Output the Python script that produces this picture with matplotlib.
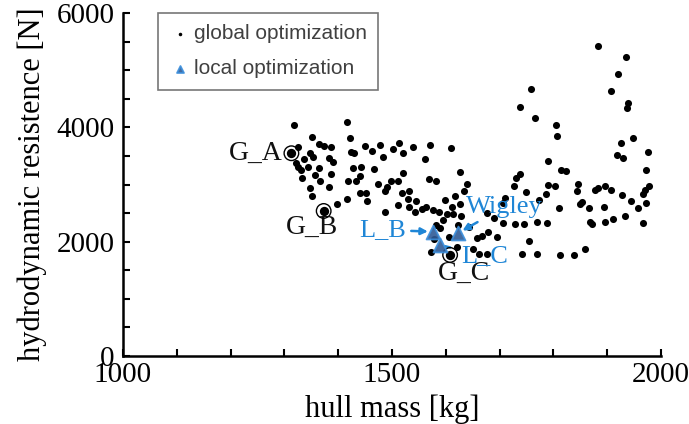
import matplotlib
matplotlib.use("Agg")
import matplotlib.pyplot as plt
from matplotlib.ticker import MultipleLocator, FixedLocator

# ---------------- data ----------------
global_mass = [
    1317, 1417, 1351, 1421, 1364, 1373, 1386, 1326, 1313, 1347,
    1354, 1336, 1382, 1391, 1321, 1325, 1344, 1364, 1330, 1357,
    1386, 1333, 1367, 1383, 1347, 1352, 1397, 1417, 1373, 1423,
    1430, 1450, 1462, 1477, 1483, 1501, 1513, 1521, 1539, 1428,
    1443, 1467, 1441, 1434, 1418, 1474, 1490, 1487, 1499, 1511,
    1521, 1440, 1451, 1454, 1518, 1531, 1529, 1512, 1531, 1545,
    1487,
    1766, 1570, 1609, 1562, 1790, 1626, 1568, 1582, 1639, 1738,
    1730, 1633, 1618, 1599, 1727, 1749, 1789, 1710, 1707, 1774,
    1556, 1563, 1576, 1587, 1542, 1612, 1627, 1602, 1613, 1628,
    1594, 1582, 1590, 1622, 1644, 1677, 1690, 1707, 1729, 1746,
    1770, 1788, 1679, 1667, 1658, 1696, 1755, 1605, 1573, 1620,
    1650, 1661, 1676, 1741, 1770, 1608, 1737, 1759, 1578,
    1882, 1934, 1920, 1907, 1938, 1936, 1805, 1807, 1948, 1925,
    1918, 1929, 1976, 1815, 1824, 1972, 1803, 1846, 1843, 1877,
    1883, 1895, 1907, 1978, 1970, 1967, 1786, 1927, 1854, 1850,
    1945, 1972, 1866, 1894, 1957, 1810, 1933, 1911, 1895, 1868,
    1872, 1967, 1859, 1838, 1812,
]
global_resistance = [
    4040, 4090, 3827, 3820, 3710, 3675, 3663, 3652, 3547, 3547,
    3477, 3448, 3470, 3400, 3372, 3313, 3302, 3295, 3255, 3168,
    3180, 3110, 3062, 2963, 2945, 2800, 2660, 2742, 2537, 3575,
    3547, 3680, 3593, 3687, 3488, 3622, 3733, 3547, 3652, 3285,
    3302, 3267, 3155, 3062, 3062, 3010, 2963, 2888, 3062, 3062,
    3208, 2847, 2847, 2718, 2858, 2893, 2742, 2642, 2613, 2718,
    2520,
    4160, 3698, 3645, 3448, 3407, 3215, 3092, 3062, 3010, 3185,
    3120, 2888, 2800, 2730, 2975, 2865, 2993, 2760, 2672, 2730,
    2567, 2602, 2555, 2520, 2520, 2602, 2660, 2485, 2485, 2450,
    2380, 2292, 2234, 2292, 2263, 2497, 2410, 2322, 2310, 2305,
    2340, 2322, 2175, 2100, 2060, 2077, 2012, 2088, 1825, 1913,
    1867, 1780, 1785, 1780, 1785, 1768, 4352, 4678, 2048,
    5430, 5238, 4940, 4643, 4433, 4345, 4048, 3855, 3820, 3733,
    3518, 3470, 3565, 3255, 3243, 3255, 2980, 3015, 2893, 2905,
    2945, 2975, 2905, 2980, 2905, 2835, 2830, 2818, 2690, 2655,
    2707, 2672, 2585, 2608, 2595, 2585, 2455, 2398, 2340, 2350,
    2310, 2333, 1878, 1768, 1768,
]

local_mass = [1577, 1589, 1622]
local_resistance = [2175, 1943, 2147]

marked_names = ["G_A", "G_B", "G_C"]
marked_mass = [1313, 1373, 1608]
marked_resistance = [3547, 2537, 1768]

local_names = ["L_B", "L_C", "Wigley"]

x_ticks = [1000, 1500, 2000]
y_ticks = [0, 2000, 4000, 6000]

# ---------------- figure ----------------
fig = plt.figure(figsize=(6.89, 4.24), dpi=100)
ax = fig.add_axes([0.1785, 0.1604, 0.7809, 0.8089])

serif = ["Liberation Serif", "DejaVu Serif"]
sans = ["Liberation Sans", "DejaVu Sans"]
blue = "#1f86d6"

ax.scatter(global_mass, global_resistance, s=26, color="black",
           linewidths=0, zorder=3, label="global optimization")
# highlighted global points
ax.scatter(marked_mass, marked_resistance, s=45, color="black",
           linewidths=0, zorder=4)
ax.scatter(marked_mass, marked_resistance, s=110, facecolors="none",
           edgecolors="black", linewidths=1.0, zorder=4)

ax.scatter(local_mass, local_resistance, s=100, marker="^",
           facecolors="#2f5b96", edgecolors="#3c8fdc", linewidths=1.3,
           alpha=0.9, zorder=5, label="local optimization")

# labels for global points
ax.text(1297, 3552, marked_names[0], family=serif, fontsize=20,
        ha="right", va="center", color="#111111")
ax.text(1351, 2257, marked_names[1], family=serif, fontsize=20,
        ha="center", va="center", color="#111111")
ax.text(1634, 1452, marked_names[2], family=serif, fontsize=20,
        ha="center", va="center", color="#111111")

# labels for local points
arrow = dict(arrowstyle="-|>", color=blue, lw=1.8, mutation_scale=10,
             shrinkA=2, shrinkB=4)
ax.annotate(local_names[0], xy=(local_mass[0], local_resistance[0]),
            xytext=(1482, 2205), family=serif, fontsize=19, color=blue,
            ha="center", va="center", arrowprops=arrow)
ax.annotate(local_names[1], xy=(local_mass[1], local_resistance[1]),
            xytext=(1672, 1750), family=serif, fontsize=19, color=blue,
            ha="center", va="center",
            arrowprops=dict(arrowstyle="-", color=blue, lw=1.8,
                            shrinkA=6, shrinkB=4))
ax.annotate(local_names[2], xy=(local_mass[2], local_resistance[2]),
            xytext=(1709, 2607), family=serif, fontsize=19, color=blue,
            ha="center", va="center", arrowprops=arrow)

# axes styling
ax.set_xlim(1000, 2000)
ax.set_ylim(0, 6000)
ax.xaxis.set_major_locator(FixedLocator(x_ticks))
ax.yaxis.set_major_locator(FixedLocator(y_ticks))
ax.xaxis.set_minor_locator(MultipleLocator(100))
ax.yaxis.set_minor_locator(MultipleLocator(500))
for s in ["top", "right"]:
    ax.spines[s].set_visible(False)
for s in ["left", "bottom"]:
    ax.spines[s].set_linewidth(1.8)
ax.tick_params(which="both", direction="in", length=5, width=1.5,
               colors="black")
ax.tick_params(axis="x", which="major", pad=4)
ax.tick_params(axis="y", which="major", pad=6)
for lab in ax.get_xticklabels() + ax.get_yticklabels():
    lab.set_family(serif)
    lab.set_fontsize(21)

ax.set_xlabel("hull mass [kg]", family=serif, fontsize=22, labelpad=5)
ax.set_ylabel("hydrodynamic resistence [N]", family=serif, fontsize=22,
              labelpad=7)

leg = ax.legend(loc="upper left", bbox_to_anchor=(0.066, 1.0),
                prop={"family": sans, "size": 15}, frameon=True,
                fancybox=False, handletextpad=0.15, handlelength=1.0,
                markerscale=0.5, borderpad=0.55, labelspacing=0.75,
                borderaxespad=0.0)
leg.get_frame().set_edgecolor("#555555")
leg.get_frame().set_linewidth(1.2)
for t in leg.get_texts():
    t.set_color("#404040")

fig.savefig("out.png", dpi=100)
